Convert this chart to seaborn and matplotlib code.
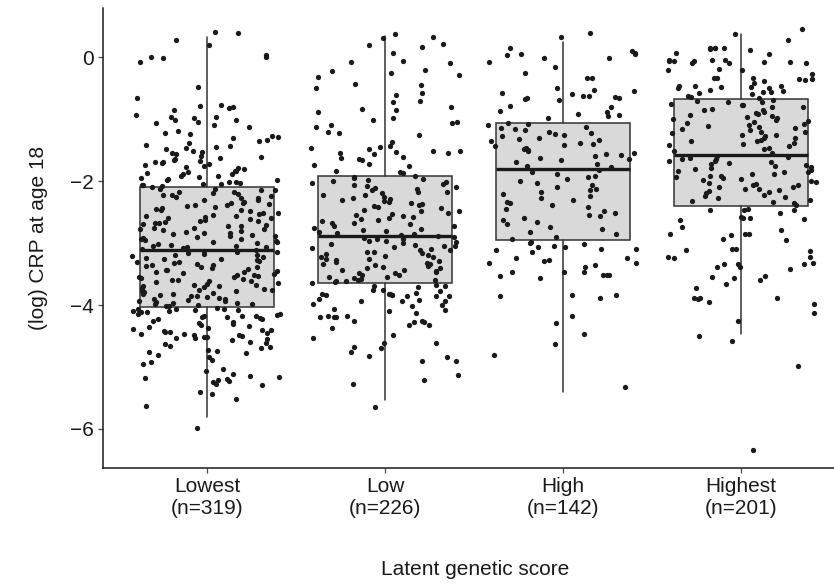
import numpy as np
import pandas as pd
import matplotlib
matplotlib.use("Agg")
import matplotlib.pyplot as plt
import seaborn as sns

# Categories and tick labels
groups = ["Lowest", "Low", "High", "Highest"]
tick_labels = ["Lowest\n(n=319)", "Low\n(n=226)", "High\n(n=142)", "Highest\n(n=201)"]

# Box statistics
medians = [-3.11, -2.88, -1.80, -1.58]
q1 = [-4.03, -3.65, -2.95, -2.40]
q3 = [-2.09, -1.91, -1.06, -0.68]
whisker_low = [-5.80, -5.54, -5.41, -4.47]
whisker_high = [0.33, 0.34, 0.25, 0.37]

# (log) CRP values per group, estimated from the jittered points
crp_lowest = [
    0.41, 0.39, 0.28, 0.19, 0.03, 0.01, 0.00, -0.02, -0.08, -0.48, -0.66, -0.79, -0.82, -0.85, -0.80, -0.77,
    -0.93, -0.96, -0.97, -0.99, -1.01, -1.02, -1.04, -1.07, -1.09, -1.13,
    -1.19, -1.22, -1.24, -1.27, -1.29, -1.31, -1.34, -1.36, -1.38, -1.41,
    -1.43, -1.45, -1.47, -1.49, -1.51, -1.53, -1.55, -1.57, -1.59, -1.61,
    -1.63, -1.64, -1.66, -1.68, -1.70, -1.71, -1.73, -1.74, -1.76, -1.78,
    -1.79, -1.81, -1.83, -1.84, -1.86, -1.88, -1.89, -1.91, -1.92, -1.94,
    -1.95, -1.97, -1.98, -1.99, -2.01, -2.02, -2.03, -2.04, -2.05, -2.06,
    -2.07, -2.08, -1.69, -1.87,
    -2.10, -2.12, -2.13, -2.15, -2.18, -2.19, -2.21, -2.22, -2.24, -2.27,
    -2.28, -2.30, -2.31, -2.33, -2.36, -2.37, -2.38, -2.41, -2.42, -2.44,
    -2.46, -2.47, -2.49, -2.52, -2.53, -2.54, -2.56, -2.58, -2.60, -2.61,
    -2.62, -2.65, -2.66, -2.68, -2.69, -2.71, -2.73, -2.75, -2.76, -2.78,
    -2.79, -2.81, -2.83, -2.84, -2.86, -2.88, -2.89, -2.90, -2.92, -2.94,
    -2.95, -2.97, -2.99, -3.00, -3.02, -3.03, -3.05, -3.06, -3.08, -3.10,
    -2.14, -2.26, -2.35, -2.45, -2.57, -2.64, -2.72, -2.82, -2.93, -3.04,
    -2.17, -2.39, -2.51, -2.67, -2.77, -2.87, -2.98, -3.07, -2.23, -2.59,
    -3.12, -3.14, -3.15, -3.17, -3.19, -3.20, -3.22, -3.24, -3.25, -3.27,
    -3.29, -3.30, -3.32, -3.33, -3.35, -3.37, -3.38, -3.40, -3.42, -3.43,
    -3.45, -3.46, -3.48, -3.50, -3.51, -3.53, -3.55, -3.56, -3.58, -3.59,
    -3.61, -3.63, -3.64, -3.66, -3.68, -3.69, -3.71, -3.72, -3.74, -3.76,
    -3.77, -3.79, -3.80, -3.82, -3.84, -3.85, -3.87, -3.88, -3.90, -3.92,
    -3.93, -3.95, -3.96, -3.98, -3.99, -4.01, -4.02, -3.13, -3.21, -3.31,
    -3.39, -3.47, -3.54, -3.62, -3.70, -3.78, -3.86, -3.94, -4.00, -3.16,
    -3.26, -3.36, -3.44, -3.52, -3.60, -3.67, -3.75, -3.83, -3.91, -3.97,
    -4.05, -4.06, -4.07, -4.08, -4.09, -4.10, -4.08, -4.11, -4.07,
    -4.14, -4.16, -4.17, -4.18, -4.19, -4.20, -4.21, -4.22, -4.18, -4.15, -4.23,
    -4.27, -4.29, -4.31, -4.32, -4.34, -4.35, -4.37,
    -4.40, -4.41, -4.43, -4.44, -4.45, -4.46, -4.47, -4.48, -4.49, -4.50,
    -4.51, -4.52, -4.53, -4.54, -4.55, -4.56,
    -4.59, -4.61, -4.66, -4.68, -4.70, -4.72, -4.74, -4.76, -4.78, -4.80,
    -4.88, -4.92, -4.95, -5.03, -5.07,
    -5.12, -5.14, -5.16, -5.18, -5.20, -5.21, -5.23, -5.25, -5.27, -5.29,
    -5.40, -5.44, -5.52, -5.63, -5.98,
    -4.12, -4.25, -4.38, -4.42, -4.63, -4.84,
]
crp_low = [
    0.38, 0.33, 0.31, 0.21, 0.19, 0.16, 0.07, -0.06, -0.08, -0.10,
    -0.21, -0.23, -0.25, -0.29, -0.32, -0.43, -0.45, -0.50, -0.58, -0.61,
    -0.70, -0.73, -0.81, -0.83, -0.85, -0.89, -0.98, -1.01, -1.05, -1.07,
    -1.09, -1.13, -1.21, -1.23, -1.25, -1.37, -1.44, -1.45, -1.47, -1.48,
    -1.51, -1.52, -1.53, -1.54, -1.55, -1.57, -1.61, -1.63, -1.64, -1.66,
    -1.72, -1.74, -1.76, -1.83, -1.85, -1.87,
    -1.92, -1.93, -1.95, -1.96, -1.98, -2.00, -2.01, -2.03, -2.05, -2.06,
    -2.08, -2.10, -2.11, -2.13, -2.15, -2.17, -2.18, -2.20, -2.22, -2.23,
    -2.25, -2.27, -2.29, -2.30, -2.32, -2.34, -2.35, -2.37, -2.39, -2.41,
    -2.42, -2.44, -2.46, -2.48, -2.49, -2.51, -2.53, -2.54, -2.56, -2.58,
    -2.60, -2.61, -2.63, -2.65, -2.67, -2.68, -2.70, -2.72, -2.73, -2.75,
    -2.77, -2.79, -2.80, -2.82, -2.84, -2.85, -2.87,
    -2.89, -2.90, -2.92, -2.93, -2.94, -2.96, -2.97, -2.99, -3.00, -3.01,
    -3.03, -3.04, -3.05, -3.07, -3.08, -3.10, -3.11, -3.12, -3.14, -3.15,
    -3.16, -3.18, -3.19, -3.21, -3.22, -3.23, -3.25, -3.26, -3.27, -3.29,
    -3.30, -3.32, -3.33, -3.34, -3.36, -3.37, -3.38, -3.40, -3.41, -3.43,
    -3.44, -3.45, -3.47, -3.48, -3.49, -3.51, -3.52, -3.54, -3.55, -3.56,
    -3.58, -3.59, -3.60, -3.61, -3.62, -3.63, -3.64,
    -3.69, -3.68, -3.70, -3.76, -3.75, -3.77, -3.83, -3.84, -3.85, -3.82,
    -3.86, -3.84, -3.83, -3.85, -3.84, -3.93, -3.92, -3.94, -3.93, -3.91,
    -4.00, -3.99, -4.01, -4.08, -4.07, -4.09, -4.13, -4.19, -4.18, -4.20,
    -4.19, -4.17, -4.26, -4.25, -4.27, -4.28, -4.33, -4.32, -4.37, -4.48,
    -4.54, -4.62, -4.61, -4.69, -4.68, -4.76, -4.83, -4.84, -4.91, -4.90,
    -5.13, -5.21, -5.27, -5.64, -3.71, -3.80,
]
crp_high = [
    0.39, 0.32, 0.15, 0.10, 0.05, 0.05, 0.04, 0.06, -0.01, -0.02,
    -0.08, -0.16, -0.26, -0.33, -0.34, -0.50, -0.53, -0.54, -0.58, -0.59,
    -0.62, -0.63, -0.66, -0.66, -0.67, -0.65, -0.69, -0.79, -0.80, -0.87,
    -0.88, -0.92, -0.93, -0.95, -0.98,
    -1.07, -1.08, -1.10, -1.12, -1.14, -1.16, -1.18, -1.20, -1.22, -1.24,
    -1.26, -1.28, -1.30, -1.32, -1.34, -1.36, -1.38, -1.40, -1.42, -1.44,
    -1.46, -1.48, -1.50, -1.52, -1.54, -1.56, -1.58, -1.60, -1.62, -1.64,
    -1.66, -1.69, -1.72, -1.75, -1.78,
    -1.82, -1.85, -1.88, -1.91, -1.94, -1.97, -2.00, -2.03, -2.06, -2.09,
    -2.12, -2.15, -2.18, -2.21, -2.24, -2.27, -2.30, -2.33, -2.36, -2.39,
    -2.42, -2.45, -2.48, -2.51, -2.54, -2.57, -2.60, -2.63, -2.66, -2.70,
    -2.74, -2.78, -2.82, -2.86, -2.90, -2.93,
    -3.02, -3.05, -3.06, -3.07, -3.10, -3.10, -3.15, -3.24, -3.24, -3.27,
    -3.29, -3.32, -3.32, -3.39, -3.46, -3.46, -3.47, -3.52, -3.51, -3.53,
    -3.52, -3.57, -3.84, -3.84, -3.86, -3.88, -4.18, -4.29, -4.46, -4.63,
    -4.81, -5.33, -2.98, -3.00, -3.12, -3.36,
]
crp_highest = [
    0.45, 0.37, 0.27, 0.15, 0.14, 0.13, 0.14, 0.12, 0.15, 0.07,
    0.05, -0.04, -0.05, -0.06, -0.07, -0.08, -0.09, -0.10, -0.06, -0.08,
    -0.05, -0.09, -0.20, -0.21, -0.19, -0.34, -0.36, -0.33, -0.37, -0.35,
    -0.34, -0.38, -0.47, -0.48, -0.49, -0.48, -0.47, -0.50, -0.46, -0.57,
    -0.56, -0.58, -0.55, -0.60, -0.62, -0.64, -0.66, -0.28, -0.42, -0.53,
    -0.69, -0.70, -0.72, -0.73, -0.75, -0.77, -0.78, -0.80, -0.81, -0.83,
    -0.85, -0.86, -0.88, -0.90, -0.91, -0.93, -0.95, -0.96, -0.98, -1.00,
    -1.01, -1.03, -1.05, -1.06, -1.08, -1.10, -1.11, -1.13, -1.15, -1.16,
    -1.18, -1.20, -1.21, -1.23, -1.25, -1.26, -1.28, -1.30, -1.31, -1.33,
    -1.35, -1.36, -1.38, -1.40, -1.42, -1.44, -1.46, -1.49, -1.52, -1.55,
    -1.59, -1.61, -1.62, -1.64, -1.65, -1.67, -1.68, -1.70, -1.71, -1.73,
    -1.74, -1.76, -1.77, -1.79, -1.80, -1.82, -1.83, -1.85, -1.86, -1.88,
    -1.89, -1.91, -1.92, -1.94, -1.95, -1.97, -1.98, -2.00, -2.01, -2.03,
    -2.04, -2.06, -2.07, -2.09, -2.10, -2.12, -2.13, -2.15, -2.16, -2.18,
    -2.20, -2.22, -2.24, -2.26, -2.28, -2.30, -2.32, -2.34, -2.36, -2.38,
    -2.46, -2.45, -2.47, -2.46, -2.52, -2.60, -2.58, -2.61, -2.59, -2.62,
    -2.74, -2.79, -2.86, -2.85, -2.87, -2.86, -2.95, -2.94, -3.10, -3.09,
    -3.11, -3.13, -3.23, -3.22, -3.24, -3.33, -3.32, -3.34, -3.33, -3.38,
    -3.39, -3.42, -3.53, -3.54, -3.56, -3.59, -3.66, -3.73, -3.89, -3.88,
    -3.90, -3.89, -3.95, -3.98, -4.13, -4.26, -4.50, -4.58, -4.98, -6.34,
]

df = pd.DataFrame({
    "group": ["Lowest"] * len(crp_lowest) + ["Low"] * len(crp_low)
             + ["High"] * len(crp_high) + ["Highest"] * len(crp_highest),
    "crp": crp_lowest + crp_low + crp_high + crp_highest,
})

sns.set_theme(style="ticks")
plt.rcParams["font.family"] = ["Liberation Sans", "DejaVu Sans"]

fig = plt.figure(figsize=(8.34, 5.85), dpi=100)
ax = fig.add_axes([0.1235, 0.2, 0.893, 0.786])

# Boxes (outliers hidden, no caps)
stats = []
for i, g in enumerate(groups):
    stats.append({"med": medians[i], "q1": q1[i], "q3": q3[i],
                  "whislo": whisker_low[i], "whishi": whisker_high[i],
                  "label": g})
ax.bxp(stats, positions=range(len(groups)), widths=0.75, showfliers=False,
       showcaps=False, patch_artist=True, manage_ticks=False,
       boxprops=dict(facecolor="#d9d9da", edgecolor="#333333", linewidth=1.1),
       whiskerprops=dict(color="#333333", linewidth=1.1),
       medianprops=dict(color="#1a1a1a", linewidth=2.4, solid_capstyle="butt"))

# Jittered points
np.random.seed(3)
sns.stripplot(data=df, x="group", y="crp", order=groups, jitter=0.42,
              color="#1a1a1a", size=3.8, linewidth=0, ax=ax, zorder=3)

ax.set_xlim(-0.584, 3.6)
ax.set_ylim(-6.63, 0.79)
ax.set_yticks([0, -2, -4, -6])
ax.set_xticks(range(len(groups)))
ax.set_xticklabels(tick_labels)

for side in ["top", "right"]:
    ax.spines[side].set_visible(False)
for side in ["left", "bottom"]:
    ax.spines[side].set_linewidth(1.1)
    ax.spines[side].set_color("#1a1a1a")

ax.tick_params(axis="both", labelsize=15, length=3.5, width=0.9,
               color="#4d4d4d", labelcolor="#1a1a1a", pad=3)
ax.set_xlabel("Latent genetic score", fontsize=15, labelpad=30, color="#1a1a1a")
ax.set_ylabel("(log) CRP at age 18", fontsize=15, labelpad=16, color="#1a1a1a")

fig.savefig("out.png", dpi=100)
